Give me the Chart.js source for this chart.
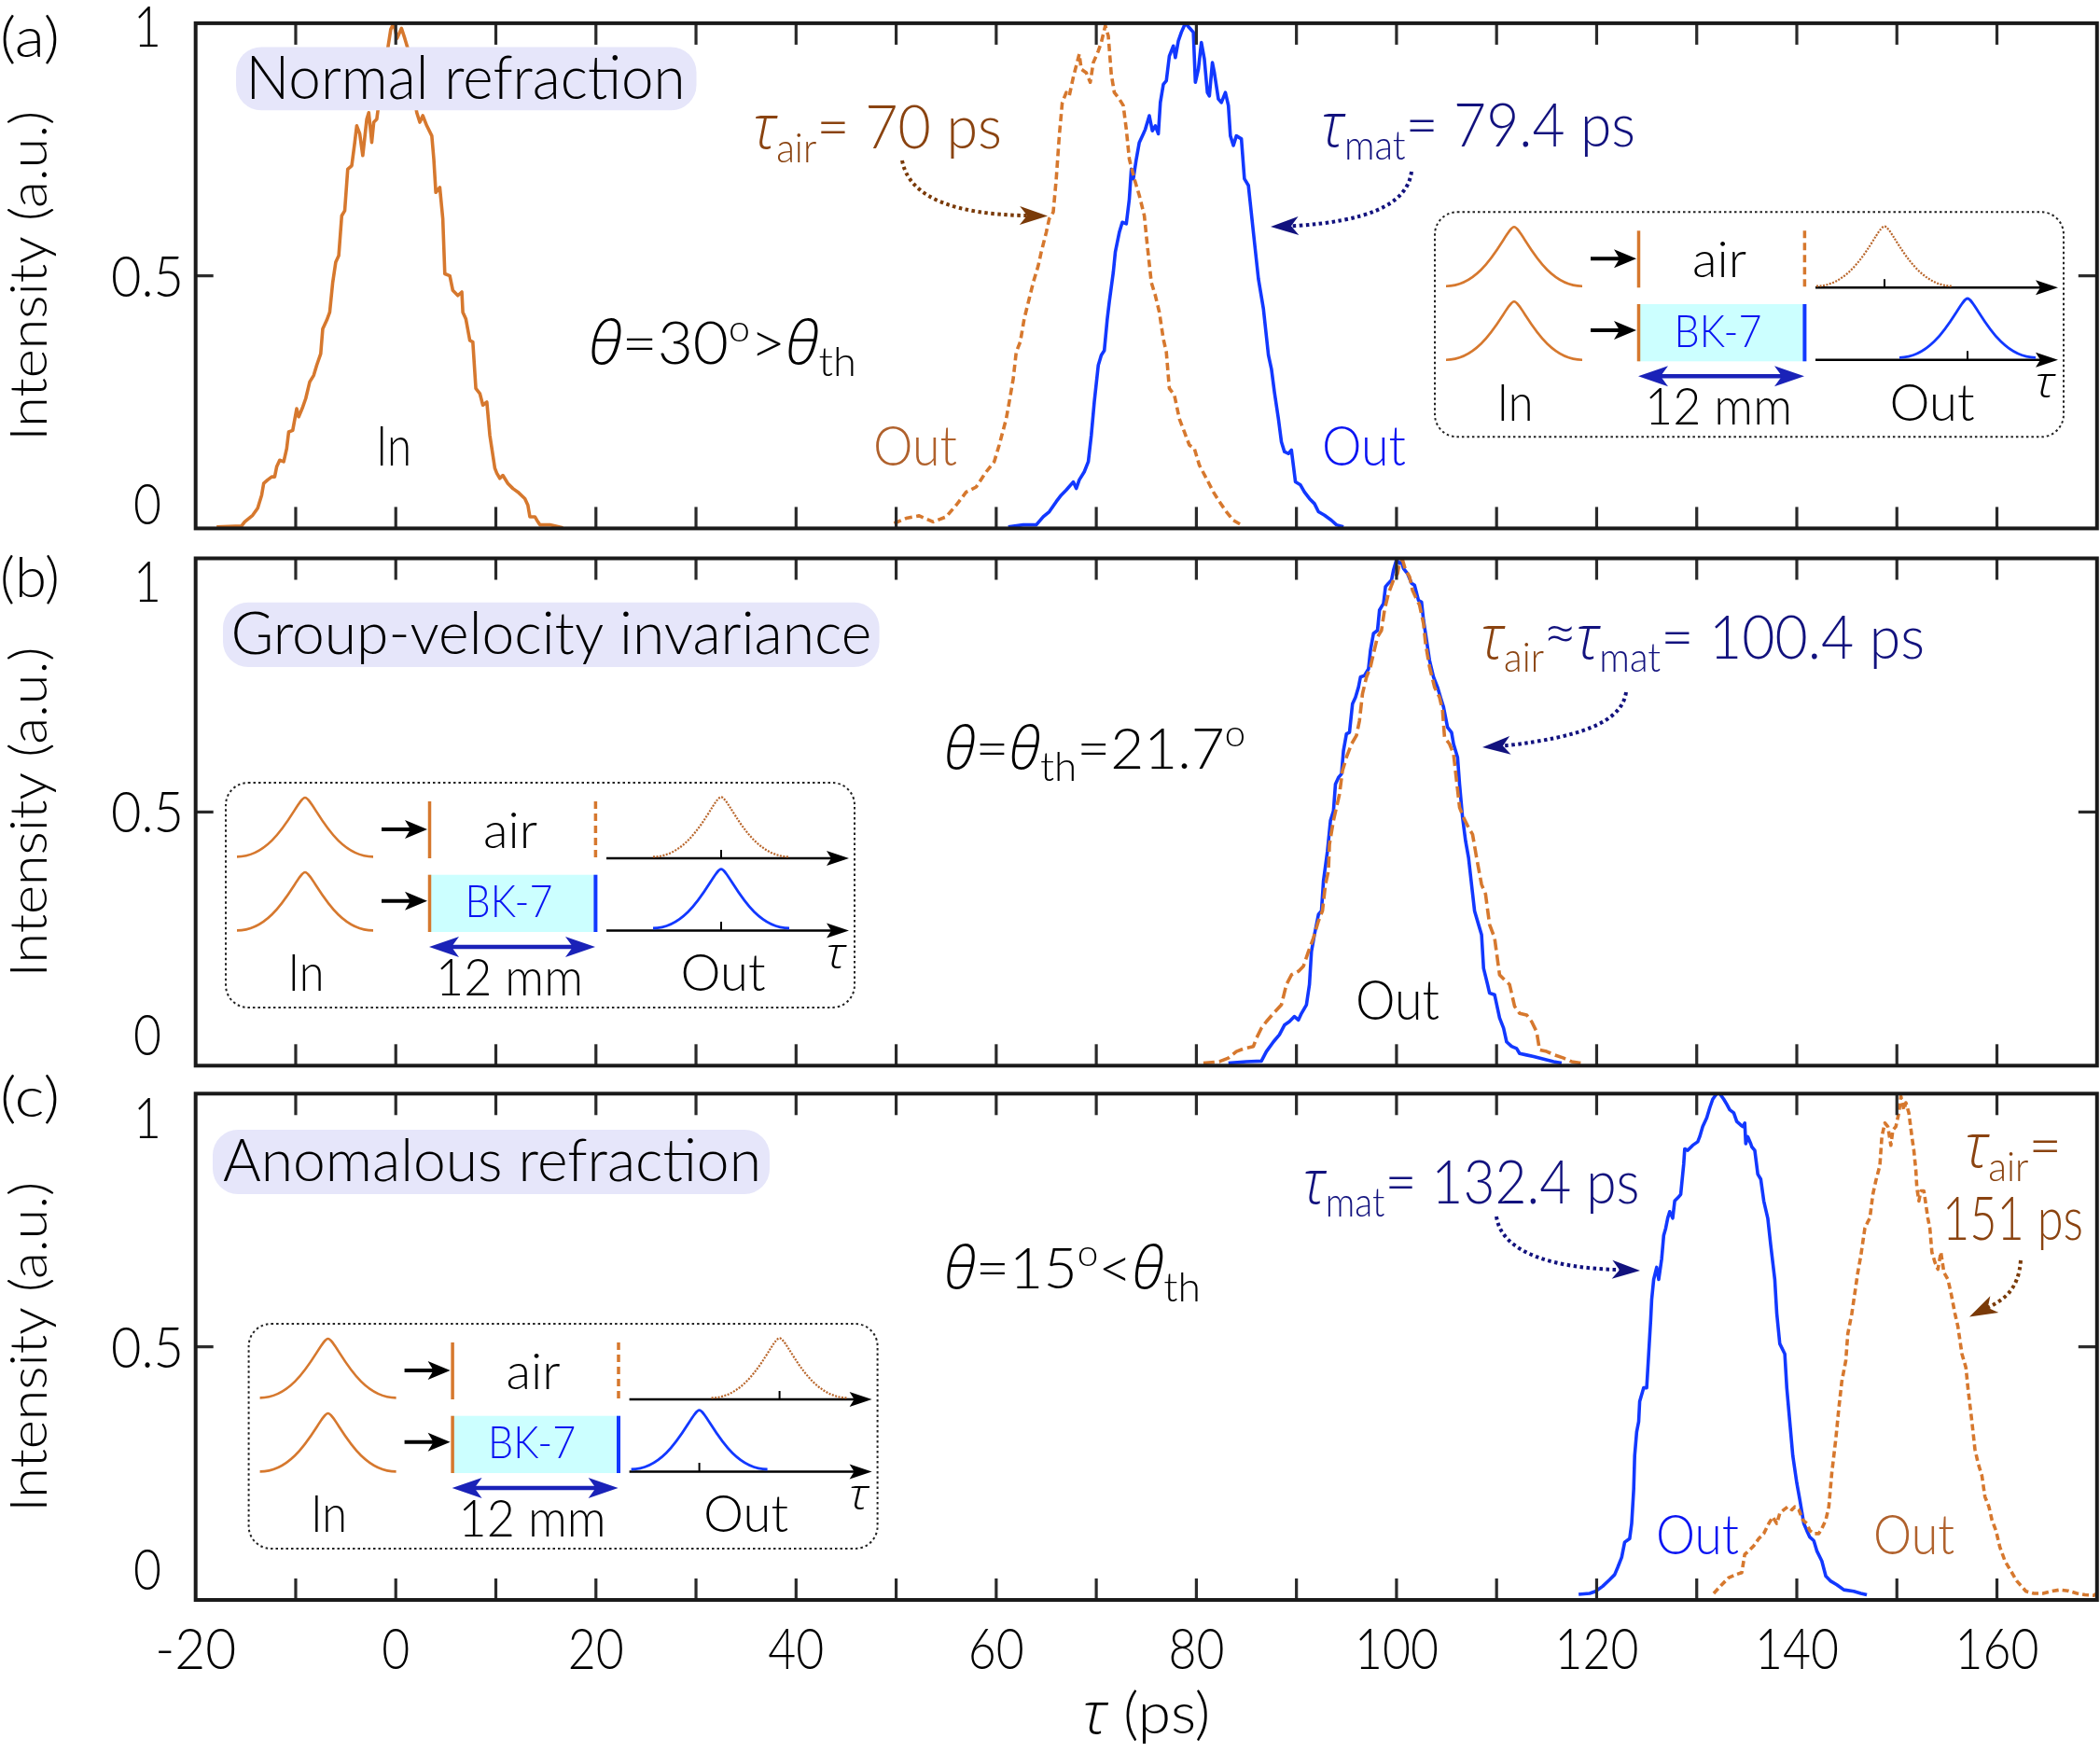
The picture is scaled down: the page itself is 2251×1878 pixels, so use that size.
<!DOCTYPE html>
<html><head><meta charset="utf-8">
<script src="https://cdn.jsdelivr.net/npm/chart.js@4.4.1/dist/chart.umd.min.js"></script>
<style>
html,body{margin:0;padding:0;background:#fff;}
#wrap{position:relative;width:2251px;height:1878px;overflow:hidden;background:#fff;}
canvas{position:absolute;left:0;}
</style></head><body><div id="wrap">
<canvas id="ca"></canvas><canvas id="cb"></canvas><canvas id="cc"></canvas>
</div>
<script>
// ---------- axis definitions ----------
const xMinorTicks = [-10,0,10,20,30,40,50,60,70,80,90,100,110,120,130,140,150,160];
const xTickLabels = [-20,0,20,40,60,80,100,120,140,160];
const yTickLabels = [0,0.5,1];

// ---------- data (tau in ps, normalized intensity) ----------
const inputA = [[-17.9,0.003],[-15.4,0.005],[-15.1,0.013],[-14.3,0.026],[-13.8,0.04],[-13.4,0.066],[-13.2,0.089],[-12.8,0.096],[-12.4,0.102],[-12.1,0.102],[-11.9,0.122],[-11.6,0.135],[-11.2,0.132],[-10.9,0.158],[-10.7,0.191],[-10.3,0.194],[-9.9,0.237],[-9.7,0.221],[-9.3,0.24],[-9.0,0.257],[-8.6,0.29],[-8.2,0.303],[-7.9,0.323],[-7.5,0.346],[-7.3,0.395],[-6.9,0.412],[-6.6,0.428],[-6.3,0.487],[-6.0,0.527],[-5.7,0.54],[-5.4,0.619],[-5.1,0.629],[-4.8,0.711],[-4.4,0.718],[-4.1,0.764],[-3.9,0.797],[-3.6,0.781],[-3.3,0.738],[-2.9,0.81],[-2.7,0.823],[-2.4,0.764],[-2.2,0.804],[-1.9,0.81],[-1.6,0.856],[-1.2,0.9],[-0.8,0.95],[-0.5,0.988],[-0.2,1.0],[0.13,0.97],[0.57,0.99],[0.9,0.97],[1.2,0.95],[1.6,0.88],[2.1,0.823],[2.4,0.804],[2.7,0.817],[3.1,0.797],[3.6,0.777],[3.8,0.731],[4.0,0.665],[4.4,0.675],[4.7,0.613],[4.9,0.504],[5.4,0.5],[5.7,0.471],[6.2,0.461],[6.6,0.468],[6.7,0.428],[7.0,0.415],[7.4,0.372],[7.7,0.369],[8.0,0.277],[8.4,0.267],[8.7,0.244],[9.1,0.25],[9.4,0.184],[9.9,0.119],[10.1,0.109],[10.4,0.099],[10.7,0.105],[11.2,0.089],[11.7,0.079],[12.2,0.072],[12.9,0.059],[13.2,0.046],[13.4,0.023],[13.9,0.023],[14.2,0.013],[14.4,0.007],[15.4,0.007],[16.7,0.001]];
const airA = [[49.8,0.01],[51.0,0.02],[52.3,0.025],[53.7,0.013],[55.0,0.023],[56.0,0.046],[57.0,0.072],[58.0,0.082],[59.0,0.112],[59.8,0.132],[60.3,0.165],[61.0,0.217],[61.3,0.25],[61.7,0.296],[62.0,0.349],[62.4,0.369],[62.8,0.415],[63.3,0.455],[63.7,0.487],[64.2,0.52],[64.5,0.547],[65.0,0.586],[65.3,0.613],[65.7,0.626],[66.0,0.692],[66.3,0.777],[66.6,0.843],[67.0,0.863],[67.3,0.856],[67.7,0.893],[68.0,0.916],[68.3,0.939],[68.5,0.909],[69.0,0.902],[69.4,0.883],[69.7,0.922],[70.2,0.945],[70.5,0.962],[70.9,0.995],[71.2,0.975],[71.5,0.899],[71.8,0.863],[72.3,0.85],[72.7,0.837],[73.0,0.79],[73.3,0.731],[73.8,0.692],[74.3,0.659],[74.8,0.619],[75.1,0.56],[75.5,0.487],[75.9,0.461],[76.3,0.428],[76.7,0.375],[77.0,0.349],[77.3,0.277],[77.8,0.264],[78.3,0.217],[78.8,0.191],[79.3,0.165],[79.8,0.158],[80.3,0.125],[81.0,0.099],[81.7,0.072],[82.3,0.053],[83.0,0.033],[83.7,0.016],[84.5,0.007]];
const matA = [[61.2,0.003],[62.7,0.007],[64.0,0.007],[64.7,0.023],[65.3,0.033],[66.0,0.053],[66.5,0.066],[67.0,0.076],[67.7,0.092],[68.0,0.079],[68.3,0.096],[68.8,0.112],[69.2,0.132],[69.5,0.184],[69.8,0.25],[70.2,0.323],[70.5,0.343],[70.8,0.352],[71.1,0.415],[71.3,0.448],[71.7,0.507],[71.9,0.547],[72.3,0.586],[72.6,0.606],[73.0,0.603],[73.3,0.652],[73.5,0.711],[73.7,0.692],[74.0,0.731],[74.3,0.764],[74.7,0.781],[74.9,0.79],[75.3,0.817],[75.6,0.787],[75.9,0.797],[76.2,0.781],[76.4,0.843],[76.7,0.879],[77.0,0.886],[77.3,0.935],[77.7,0.955],[77.9,0.932],[78.2,0.965],[78.5,0.982],[78.9,1.0],[79.3,0.991],[79.7,0.982],[79.9,0.883],[80.2,0.909],[80.5,0.962],[80.8,0.929],[81.1,0.863],[81.3,0.856],[81.6,0.922],[81.8,0.902],[82.2,0.85],[82.5,0.843],[82.9,0.863],[83.2,0.837],[83.4,0.777],[83.7,0.758],[84.0,0.777],[84.5,0.771],[84.8,0.692],[85.2,0.679],[85.7,0.586],[86.2,0.494],[86.7,0.435],[87.2,0.343],[87.5,0.316],[87.8,0.27],[88.2,0.217],[88.5,0.171],[88.8,0.152],[89.2,0.148],[89.5,0.155],[89.9,0.092],[90.4,0.086],[90.8,0.072],[91.3,0.059],[91.8,0.049],[92.2,0.033],[92.8,0.026],[93.5,0.016],[94.0,0.007],[94.7,0.003]];
const matB = [[83.2,0.005],[85.0,0.008],[86.5,0.009],[87.0,0.028],[87.7,0.047],[88.3,0.061],[88.8,0.08],[89.3,0.087],[89.8,0.097],[90.2,0.09],[90.5,0.103],[91.0,0.12],[91.3,0.16],[91.5,0.225],[91.8,0.258],[92.2,0.298],[92.5,0.305],[92.7,0.364],[93.1,0.423],[93.4,0.483],[93.7,0.502],[93.9,0.555],[94.2,0.568],[94.5,0.575],[94.7,0.621],[95.0,0.654],[95.3,0.657],[95.6,0.713],[95.9,0.726],[96.2,0.746],[96.4,0.766],[96.8,0.769],[97.2,0.782],[97.4,0.819],[97.7,0.852],[98.1,0.858],[98.3,0.898],[98.7,0.911],[98.9,0.944],[99.2,0.951],[99.5,0.957],[99.7,0.977],[100.0,0.997],[100.3,0.99],[100.5,0.993],[100.7,0.98],[101.1,0.97],[101.5,0.951],[101.8,0.947],[102.2,0.917],[102.5,0.914],[102.7,0.878],[103.0,0.839],[103.3,0.799],[103.7,0.766],[104.1,0.746],[104.4,0.726],[104.7,0.707],[105.1,0.667],[105.5,0.657],[105.7,0.634],[106.1,0.608],[106.3,0.555],[106.6,0.489],[106.9,0.443],[107.2,0.41],[107.5,0.357],[107.8,0.305],[108.2,0.278],[108.5,0.258],[108.7,0.192],[109.1,0.16],[109.3,0.143],[109.8,0.14],[110.3,0.094],[110.7,0.074],[111.0,0.047],[111.5,0.038],[112.0,0.034],[112.3,0.024],[113.0,0.021],[113.7,0.018],[114.7,0.013],[115.7,0.008],[116.5,0.005]];
const airB = [[80.7,0.005],[82.3,0.008],[83.2,0.015],[84.0,0.028],[84.8,0.034],[85.7,0.038],[86.0,0.054],[86.5,0.074],[87.0,0.087],[87.7,0.103],[88.5,0.12],[89.0,0.16],[89.5,0.179],[90.2,0.186],[90.7,0.196],[91.2,0.225],[91.7,0.252],[92.2,0.285],[92.6,0.305],[92.9,0.357],[93.2,0.384],[93.3,0.436],[93.7,0.483],[94.0,0.509],[94.3,0.535],[94.6,0.581],[95.0,0.608],[95.5,0.634],[96.0,0.651],[96.3,0.68],[96.6,0.733],[97.0,0.766],[97.4,0.786],[97.7,0.812],[98.1,0.845],[98.5,0.858],[98.8,0.898],[99.2,0.931],[99.7,0.957],[100.1,0.97],[100.3,0.99],[100.6,0.997],[100.9,0.977],[101.3,0.964],[101.6,0.937],[101.9,0.924],[102.3,0.908],[102.7,0.871],[102.9,0.832],[103.3,0.786],[103.8,0.746],[104.3,0.726],[104.6,0.7],[104.8,0.647],[105.3,0.634],[105.7,0.614],[106.0,0.562],[106.3,0.509],[106.7,0.489],[107.2,0.469],[107.6,0.456],[108.0,0.41],[108.5,0.357],[108.9,0.338],[109.3,0.278],[109.8,0.252],[110.3,0.179],[110.8,0.169],[111.3,0.16],[111.8,0.117],[112.3,0.103],[113.0,0.1],[113.5,0.087],[114.0,0.067],[114.3,0.031],[115.0,0.028],[115.8,0.021],[116.7,0.015],[117.5,0.008],[118.5,0.005]];
const matC = [[118.2,0.011],[119.3,0.013],[119.9,0.017],[120.6,0.027],[121.3,0.04],[121.8,0.05],[122.1,0.064],[122.5,0.084],[122.8,0.114],[123.3,0.121],[123.5,0.151],[123.7,0.218],[123.8,0.285],[124.0,0.332],[124.2,0.352],[124.3,0.392],[124.7,0.419],[125.0,0.419],[125.2,0.486],[125.4,0.553],[125.5,0.593],[125.7,0.633],[126.0,0.657],[126.2,0.633],[126.5,0.674],[126.7,0.72],[126.9,0.734],[127.1,0.754],[127.3,0.767],[127.6,0.754],[127.8,0.788],[128.1,0.794],[128.4,0.801],[128.7,0.861],[128.8,0.891],[129.1,0.888],[129.6,0.898],[130.1,0.905],[130.3,0.915],[130.6,0.935],[131.0,0.952],[131.3,0.972],[131.6,0.989],[132.0,1.0],[132.3,1.0],[132.7,0.989],[133.0,0.979],[133.3,0.968],[133.7,0.962],[134.0,0.945],[134.4,0.938],[134.6,0.935],[134.8,0.942],[134.9,0.901],[135.1,0.915],[135.4,0.901],[135.5,0.895],[135.8,0.888],[136.1,0.841],[136.4,0.831],[136.7,0.788],[137.1,0.754],[137.4,0.7],[137.8,0.633],[138.0,0.566],[138.3,0.506],[138.8,0.486],[139.0,0.419],[139.3,0.352],[139.6,0.285],[140.0,0.231],[140.3,0.198],[140.7,0.151],[141.0,0.137],[141.3,0.124],[141.7,0.117],[142.0,0.097],[142.5,0.077],[142.9,0.047],[143.4,0.037],[144.0,0.03],[144.7,0.02],[145.7,0.017],[146.4,0.013],[147.0,0.01]];
const airC = [[131.7,0.013],[132.5,0.03],[133.2,0.044],[133.9,0.05],[134.5,0.054],[134.8,0.09],[135.2,0.097],[135.7,0.107],[136.2,0.121],[136.7,0.131],[137.2,0.151],[137.6,0.164],[138.0,0.151],[138.3,0.171],[138.7,0.178],[139.1,0.184],[139.5,0.178],[139.8,0.184],[140.2,0.178],[140.6,0.158],[141.0,0.151],[141.3,0.137],[141.7,0.131],[142.2,0.131],[142.5,0.141],[142.9,0.158],[143.2,0.184],[143.5,0.251],[143.9,0.318],[144.2,0.379],[144.5,0.432],[144.9,0.473],[145.1,0.526],[145.5,0.566],[145.7,0.593],[146.1,0.647],[146.4,0.68],[146.8,0.734],[147.1,0.747],[147.3,0.754],[147.6,0.801],[147.9,0.828],[148.3,0.858],[148.5,0.915],[148.8,0.942],[149.1,0.935],[149.4,0.898],[149.6,0.928],[149.9,0.935],[150.2,0.962],[150.4,0.995],[150.7,0.968],[150.9,0.982],[151.2,0.962],[151.5,0.915],[151.7,0.888],[151.9,0.848],[152.0,0.814],[152.2,0.788],[152.4,0.808],[152.7,0.808],[153.1,0.754],[153.3,0.734],[153.5,0.687],[153.8,0.667],[154.1,0.653],[154.4,0.687],[154.7,0.647],[155.1,0.633],[155.4,0.607],[155.8,0.566],[156.1,0.54],[156.5,0.486],[156.9,0.459],[157.1,0.419],[157.5,0.352],[157.8,0.298],[158.1,0.271],[158.5,0.245],[158.8,0.204],[159.2,0.184],[159.5,0.158],[159.9,0.137],[160.3,0.104],[160.8,0.077],[161.4,0.057],[162.0,0.037],[162.9,0.017],[163.7,0.013],[164.6,0.013],[165.4,0.017],[166.3,0.02],[167.1,0.018],[168.0,0.013],[168.8,0.01],[169.7,0.009],[170.0,0.013]];

// ---------- styles ----------
const ORANGE = '#D6782E', BLUE = '#1238FF', BROWN = '#8A4310', NAVY = '#12127E';
const OUT_OR = '#B0612C', OUT_BL = '#0A14F2', DARROW = '#1A22B8';
const FONT = 'Lato, "Open Sans", "DejaVu Sans", sans-serif';
const GREEK = '"Open Sans", "DejaVu Sans", sans-serif';

function fnt(p){
  const greek = /[τθ≈]/.test(p.t);
  return (p.i ? 'italic ' : '') + '300 ' + p.s + 'px ' + (greek ? GREEK : FONT);
}
function runsWidth(ctx, parts){
  let w = 0;
  for (const p of parts){ ctx.font = fnt(p); w += ctx.measureText(p.t).width + (p.g || 0); }
  return w;
}
// draw text runs starting at x (or centred), scaled horizontally to targetW
function runs(ctx, parts, x, y, targetW, align){
  const nat = runsWidth(ctx, parts);
  const k = targetW ? targetW / nat : 1;
  const x0 = align === 'center' ? x - nat * k / 2 : x;
  ctx.save(); ctx.translate(x0, y); ctx.scale(k, 1);
  ctx.textAlign = 'left'; ctx.textBaseline = 'alphabetic';
  let cx = 0;
  for (const p of parts){
    ctx.font = fnt(p); ctx.fillStyle = p.c || '#000';
    ctx.fillText(p.t, cx, p.dy || 0);
    cx += ctx.measureText(p.t).width + (p.g || 0);
  }
  ctx.restore();
}
function text(ctx, t, x, y, s, c, w, align, it){ runs(ctx, [{t:t, s:s, c:c, i:it}], x, y, w, align); }

function rrect(ctx, x, y, w, h, r){
  ctx.beginPath();
  ctx.moveTo(x + r, y); ctx.lineTo(x + w - r, y); ctx.arcTo(x + w, y, x + w, y + r, r);
  ctx.lineTo(x + w, y + h - r); ctx.arcTo(x + w, y + h, x + w - r, y + h, r);
  ctx.lineTo(x + r, y + h); ctx.arcTo(x, y + h, x, y + h - r, r);
  ctx.lineTo(x, y + r); ctx.arcTo(x, y, x + r, y, r); ctx.closePath();
}
function line(ctx, x1, y1, x2, y2, c, w, dash){
  ctx.save(); ctx.strokeStyle = c; ctx.lineWidth = w; ctx.setLineDash(dash || []);
  ctx.beginPath(); ctx.moveTo(x1, y1); ctx.lineTo(x2, y2); ctx.stroke(); ctx.restore();
}
function head(ctx, tx, ty, ang, len, hw, notch, c){
  ctx.save(); ctx.translate(tx, ty); ctx.rotate(ang); ctx.fillStyle = c;
  ctx.beginPath(); ctx.moveTo(0, 0); ctx.lineTo(-len, -hw); ctx.lineTo(-len + notch, 0); ctx.lineTo(-len, hw);
  ctx.closePath(); ctx.fill(); ctx.restore();
}
function bump(ctx, cx, base, peak, half, c, w, dash){
  ctx.save(); ctx.strokeStyle = c; ctx.lineWidth = w; ctx.setLineDash(dash || []);
  ctx.beginPath(); ctx.moveTo(cx - half, base);
  ctx.bezierCurveTo(cx - half * 0.4, base, cx - half * 0.12, peak, cx, peak);
  ctx.bezierCurveTo(cx + half * 0.12, peak, cx + half * 0.4, base, cx + half, base);
  ctx.stroke(); ctx.restore();
}
// dotted curved pointer (cubic) with arrowhead
function pointer(ctx, p, tip, c){
  ctx.save(); ctx.strokeStyle = c; ctx.lineWidth = 4; ctx.setLineDash([3.5, 3.5]);
  ctx.beginPath(); ctx.moveTo(p[0], p[1]); ctx.bezierCurveTo(p[2], p[3], p[4], p[5], p[6], p[7]);
  ctx.lineTo(tip[0] - (tip[0] - p[6]) * 0.3, tip[1] - (tip[1] - p[7]) * 0.3);
  ctx.stroke(); ctx.restore();
  head(ctx, tip[0], tip[1], Math.atan2(tip[1] - p[7], tip[0] - p[6]), 30, 10, 8, c);
}
function label(ctx, t, bx, by, bw, bh, tx, ty, s, tw){
  ctx.save(); ctx.fillStyle = '#E6E6FA'; rrect(ctx, bx, by, bw, bh, 27); ctx.fill(); ctx.restore();
  text(ctx, t, tx, ty, s, '#000', tw);
}
function inset(ctx, ox, oy, airDx, matDx){
  ctx.save(); ctx.setLineDash([2.5, 3]); ctx.lineWidth = 2; ctx.strokeStyle = '#222';
  rrect(ctx, ox, oy, 674, 241, 24); ctx.stroke(); ctx.restore();
  bump(ctx, ox + 85, oy + 79.4, oy + 16, 73, ORANGE, 2.6);
  bump(ctx, ox + 85, oy + 158.4, oy + 96, 73, ORANGE, 2.6);
  line(ctx, ox + 167, oy + 50, ox + 200, oy + 50, '#000', 4);
  head(ctx, ox + 216, oy + 50, 0, 24, 10, 6, '#000');
  line(ctx, ox + 167, oy + 126.7, ox + 200, oy + 126.7, '#000', 4);
  head(ctx, ox + 216, oy + 126.7, 0, 24, 10, 6, '#000');
  ctx.fillStyle = '#CCFFFF'; ctx.fillRect(ox + 218, oy + 98.7, 179.4, 61.3);
  line(ctx, ox + 218.5, oy + 20, ox + 218.5, oy + 81, ORANGE, 3.5);
  line(ctx, ox + 218.5, oy + 98.7, ox + 218.5, oy + 160, ORANGE, 3.5);
  line(ctx, ox + 396.4, oy + 20, ox + 396.4, oy + 81, ORANGE, 3.5, [8, 5]);
  line(ctx, ox + 396.4, oy + 98.7, ox + 396.4, oy + 160, BLUE, 4);
  text(ctx, 'air', ox + 305, oy + 70, 54, '#000', 58, 'center');
  text(ctx, 'BK-7', ox + 303.5, oy + 144.4, 48, '#0A14F2', 94, 'center');
  line(ctx, ox + 240, oy + 176, ox + 373, oy + 176, DARROW, 4.5);
  head(ctx, ox + 218, oy + 176, Math.PI, 32, 11, 8, DARROW);
  head(ctx, ox + 396, oy + 176, 0, 32, 11, 8, DARROW);
  text(ctx, '12 mm', ox + 304, oy + 227.7, 56, '#000', 158, 'center');
  text(ctx, 'In', ox + 86, oy + 223.4, 56, '#000', 39, 'center');
  text(ctx, 'Out', ox + 533, oy + 223.4, 56, '#000', 91, 'center');
  text(ctx, 'τ', ox + 654, oy + 199, 46, '#000', 21, 'center', true);
  line(ctx, ox + 408, oy + 81, ox + 650, oy + 81, '#000', 2.5);
  head(ctx, ox + 668, oy + 81, 0, 24, 8, 5, '#000');
  line(ctx, ox + 408, oy + 158.4, ox + 650, oy + 158.4, '#000', 2.5);
  head(ctx, ox + 668, oy + 158.4, 0, 24, 8, 5, '#000');
  bump(ctx, ox + airDx, oy + 79.4, oy + 15.4, 73, '#B8652A', 2.2, [2, 1.5]);
  line(ctx, ox + airDx, oy + 72, ox + airDx, oy + 81, '#000', 2);
  bump(ctx, ox + matDx, oy + 156, oy + 92.7, 73, BLUE, 2.8);
  line(ctx, ox + matDx, oy + 149, ox + matDx, oy + 158.4, '#000', 2);
}

// ---------- per panel annotations ----------
function drawA(ctx){
  label(ctx, 'Normal refraction', 253, 50.4, 493.5, 67.8, 263.6, 105.7, 66, 471);
  runs(ctx, [{t:'τ', s:66, i:1, c:BROWN}, {t:'air', s:44, c:BROWN, dy:15}, {t:'= 70 ps', s:66, c:BROWN}], 807, 158.8, 267);
  runs(ctx, [{t:'τ', s:66, i:1, c:NAVY}, {t:'mat', s:44, c:NAVY, dy:14}, {t:'= 79.4 ps', s:66, c:NAVY}], 1416, 157, 337);
  runs(ctx, [{t:'θ', s:64, i:1}, {t:'=30', s:64}, {t:'o', s:40, dy:-24}, {t:'>', s:64}, {t:'θ', s:64, i:1}, {t:'th', s:44, dy:13}], 631, 390, 287);
  text(ctx, 'In', 422, 499, 60, '#000', 38, 'center');
  text(ctx, 'Out', 936, 499, 60, OUT_OR, 90);
  text(ctx, 'Out', 1417, 499, 60, OUT_BL, 90);
  pointer(ctx, [967, 172, 975, 215, 1030, 229, 1095, 231], [1123, 231.5], '#7A3A08');
  pointer(ctx, [1513, 184, 1508, 222, 1460, 237, 1390, 242], [1362, 243], NAVY);
  inset(ctx, 1538, 227.3, 482, 571);
}
function drawB(ctx){
  label(ctx, 'Group-velocity invariance', 239, 645.8, 703.6, 69.2, 247.4, 700.5, 64, 687);
  runs(ctx, [{t:'θ', s:62, i:1}, {t:'=', s:62}, {t:'θ', s:62, i:1}, {t:'th', s:44, dy:13}, {t:'=21.7', s:62}, {t:'o', s:40, dy:-24}], 1012, 824, 323);
  text(ctx, 'Out', 1453, 1093, 60, '#000', 90);
  runs(ctx, [{t:'τ', s:66, i:1, c:BROWN}, {t:'air', s:44, c:BROWN, dy:14, g:2}, {t:'≈', s:58, c:NAVY, dy:-6, g:2}, {t:'τ', s:66, i:1, c:NAVY}, {t:'mat', s:44, c:NAVY, dy:14}, {t:'= 100.4 ps', s:66, c:NAVY}], 1587, 706, 476);
  pointer(ctx, [1743, 742, 1738, 776, 1690, 790, 1617, 799], [1589, 801], NAVY);
  inset(ctx, 242, 839, 531, 531);
}
function drawC(ctx){
  label(ctx, 'Anomalous refraction', 228, 1211, 597, 69, 239, 1266, 64, 577);
  runs(ctx, [{t:'θ', s:62, i:1}, {t:'=15', s:62}, {t:'o', s:40, dy:-24}, {t:'<', s:62}, {t:'θ', s:62, i:1}, {t:'th', s:44, dy:14}], 1012, 1381, 275);
  runs(ctx, [{t:'τ', s:66, i:1, c:NAVY}, {t:'mat', s:44, c:NAVY, dy:14}, {t:'= 132.4 ps', s:66, c:NAVY}], 1396.5, 1290, 361);
  runs(ctx, [{t:'τ', s:66, i:1, c:BROWN}, {t:'air', s:44, c:BROWN, dy:15}, {t:'=', s:66, c:BROWN}], 2106, 1251, 104);
  text(ctx, '151 ps', 2082, 1329, 66, BROWN, 151);
  text(ctx, 'Out', 1775, 1666, 60, OUT_BL, 89);
  text(ctx, 'Out', 2008, 1666, 60, OUT_OR, 87);
  pointer(ctx, [1604, 1304, 1610, 1345, 1670, 1359, 1732, 1361], [1758, 1362], NAVY);
  pointer(ctx, [2166, 1351, 2164, 1380, 2150, 1392, 2134, 1400], [2111, 1411.5], '#7A3A08');
  inset(ctx, 266.6, 1419, 569, 483);
}

// ---------- panel layout ----------
const panels = [
  {id:'ca', top:0, h:590, area:[209.7, 24.9, 2247.8, 566.4], letter:['(a)', 60.5], yOff:{top:25, zero:-4.4},
   sets:[{d:matA, c:BLUE, dash:[], o:2}, {d:inputA, c:ORANGE, dash:[], o:1}, {d:airA, c:ORANGE, dash:[8, 4.5], o:1}], draw:drawA, xlab:false},
  {id:'cb', top:580, h:580, area:[209.7, 598.5, 2247.8, 1142.3], letter:['(b)', 640], yOff:{top:46.5, zero:-11.3},
   sets:[{d:matB, c:BLUE, dash:[], o:2}, {d:airB, c:ORANGE, dash:[12, 5], o:1}], draw:drawB, xlab:false},
  {id:'cc', top:1140, h:738, area:[209.7, 1172.3, 2247.8, 1715], letter:['(c)', 1197], yOff:{top:47.7, zero:-11},
   sets:[{d:matC, c:BLUE, dash:[], o:2}, {d:airC, c:ORANGE, dash:[7, 4], o:1}], draw:drawC, xlab:true},
];

const framePlugin = {
  id: 'frame',
  afterDatasetsDraw(chart, args, opts){
    const P = opts.panel, ctx = chart.ctx, xs = chart.scales.x, ys = chart.scales.y;
    const L = chart.chartArea.left, R = chart.chartArea.right;
    ctx.save();
    ctx.translate(0, -P.top);
    const T = ys.getPixelForValue(1) + P.top, B = ys.getPixelForValue(0) + P.top;
    for (const v of xMinorTicks){
      const x = xs.getPixelForValue(v);
      line(ctx, x, B, x, B - 23, '#2a2a2a', 3.2);
      line(ctx, x, T, x, T + 23, '#2a2a2a', 3.2);
    }
    const ym = ys.getPixelForValue(0.5) + P.top;
    line(ctx, L, ym, L + 19, ym, '#2a2a2a', 3.2);
    line(ctx, R, ym, R - 20, ym, '#2a2a2a', 3.2);
    ctx.strokeStyle = '#1a1a1a'; ctx.lineWidth = 4; ctx.setLineDash([]);
    ctx.strokeRect(L, T, R - L, B - T);
    for (const v of yTickLabels){
      let y = ys.getPixelForValue(v) + P.top;
      y += v === 1 ? P.yOff.top : (v === 0 ? P.yOff.zero : 22);
      const s = String(v);
      text(ctx, s, 158, y, 62, '#000', s.length * 26 + (s.length > 1 ? 0 : 4), 'center');
    }
    ctx.save(); ctx.translate(50, (T + B) / 2); ctx.rotate(-Math.PI / 2);
    text(ctx, 'Intensity (a.u.)', 0, 0, 56, '#000', 354, 'center');
    ctx.restore();
    text(ctx, P.letter[0], 0, P.letter[1], 60, '#000', 64);
    if (P.xlab){
      for (const v of xTickLabels){
        const s = String(v);
        text(ctx, s, xs.getPixelForValue(v), 1789, 62, '#000', s.length * 30 + (v < 0 ? -3 : 0), 'center');
      }
      runs(ctx, [{t:'τ', s:62, i:1}, {t:' (ps)', s:62}], xs.getPixelForValue(75), 1858, 137, 'center');
    }
    P.draw(ctx);
    ctx.restore();
  }
};

for (const P of panels){
  const cv = document.getElementById(P.id);
  cv.width = 2251; cv.height = P.h;
  cv.style.top = P.top + 'px'; cv.style.width = '2251px'; cv.style.height = P.h + 'px';
  new Chart(cv, {
    type: 'line',
    data: { datasets: P.sets.map(s => ({
      data: s.d.map(p => ({x: p[0], y: p[1]})),
      borderColor: s.c, borderWidth: 3.6, borderDash: s.dash, pointRadius: 0,
      fill: false, tension: 0, order: s.o, borderJoinStyle: 'round'
    })) },
    options: {
      responsive: false, animation: false, devicePixelRatio: 1, events: [],
      layout: { padding: { left: P.area[0], top: P.area[1] - P.top, right: 2251 - P.area[2], bottom: P.top + P.h - P.area[3] } },
      plugins: { legend: {display: false}, tooltip: {enabled: false}, frame: {panel: P} },
      scales: {
        x: { type: 'linear', min: -20, max: 170, display: false },
        y: { type: 'linear', min: 0, max: 1, display: false }
      }
    },
    plugins: [framePlugin]
  });
}
</script></body></html>
